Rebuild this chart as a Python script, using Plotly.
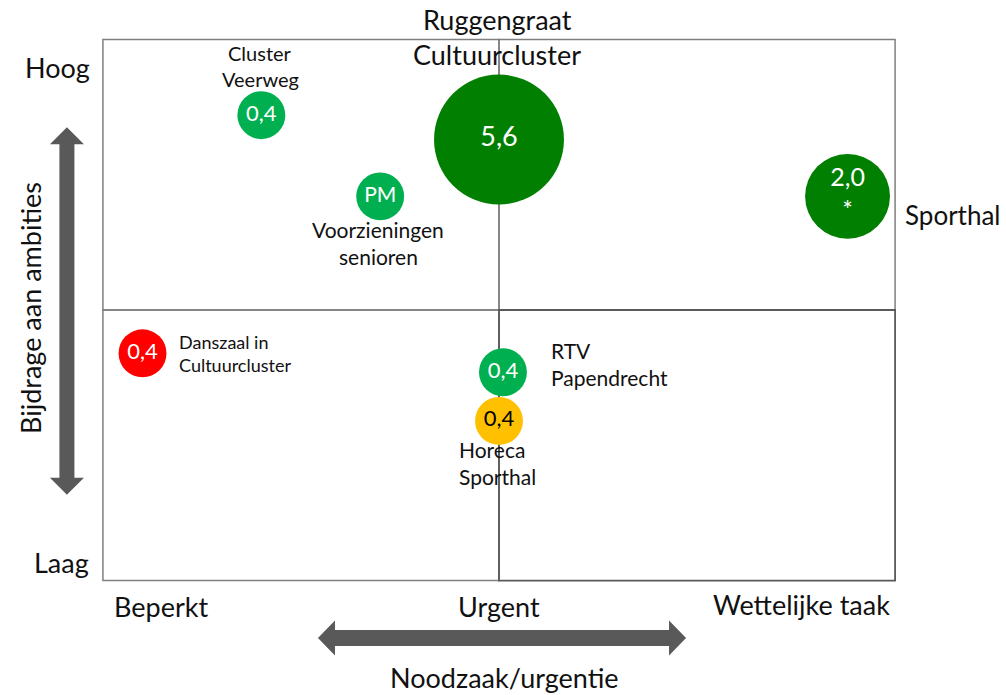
import math
import plotly.graph_objects as go

# ---------------- data ----------------
names = ["Cluster Veerweg", "Ruggengraat Cultuurcluster", "Voorzieningen senioren", "Sporthal",
         "Danszaal in Cultuurcluster", "RTV Papendrecht", "Horeca Sporthal"]
urgency = [0.40, 1.00, 0.70, 1.88, 0.10, 1.01, 1.00]      # 0 = beperkt, 1 = urgent, 2 = wettelijke taak
ambition = [1.72, 1.63, 1.42, 1.42, 0.84, 0.77, 0.59]     # 0 = laag, 2 = hoog
investment = [0.4, 5.6, None, 2.0, 0.4, 0.4, 0.4]         # None = PM
bubble_text = ["0,4", "5,6", "PM", "2,0<br>*", "0,4", "0,4", "0,4"]
status = ["groen", "donkergroen", "groen", "donkergroen", "rood", "groen", "oranje"]
label_lines = [["Cluster", "Veerweg"], ["Ruggengraat", "Cultuurcluster"], ["Voorzieningen", "senioren"],
               ["Sporthal"], ["Danszaal in", "Cultuurcluster"], ["RTV", "Papendrecht"], ["Horeca", "Sporthal"]]

x_tick_labels = ["Beperkt", "Urgent", "Wettelijke taak"]
y_tick_labels = ["Hoog", "Laag"]
x_title = "Noodzaak/urgentie"
y_title = "Bijdrage aan ambities"

# ---------------- styles ----------------
FONT = "Lato"
colors = {"groen": "#00B050", "donkergroen": "#007F00", "rood": "#FF0000", "oranje": "#FFC000"}
text_colors = {"groen": "white", "donkergroen": "white", "rood": "white", "oranje": "black"}
bubble_font = [22, 27, 21, 25, 22, 22, 22]
# label placement (pixel offsets from bubble centre): dx, dy(first line, down +), spacing, size, anchor
label_style = [(-1, -62, 26, 20, "center"), (-2, -120, 35, 27, "center"), (-2, 33, 27, 21, "center"),
               (55, 19, 0, 26, "left"), (34, -11, 23, 18, "left"), (46, -22, 27, 21, "left"),
               (-42, 29, 27, 21, "left")]

W_FIG, H_FIG = 1006, 695
X0_PX, X2_PX = 103, 895     # pixel positions of urgency 0 and 2
Y0_PX, Y2_PX = 581, 39      # pixel positions of ambition 0 and 2
PAD = 0.02
kx = (X2_PX - X0_PX) / 2
ky = (Y0_PX - Y2_PX) / 2
L = X0_PX - PAD * kx
R = W_FIG - (X2_PX + PAD * kx)
T = Y2_PX - PAD * ky
B = H_FIG - (Y0_PX + PAD * ky)
PW = W_FIG - L - R
PH = H_FIG - T - B


def px(x):
    return (x - L) / PW


def py(y):
    return (T + PH - y) / PH


def bubble_size(v):
    v = 0.4 if v is None else v
    return 18 + 47.3 * math.sqrt(v)


fig = go.Figure()
fig.add_trace(go.Scatter(
    x=urgency, y=ambition, mode="markers+text",
    text=bubble_text, textposition="middle center",
    textfont=dict(family=FONT, size=bubble_font, color=[text_colors[s] for s in status]),
    marker=dict(size=[bubble_size(v) for v in investment], color=[colors[s] for s in status],
                line=dict(width=0), opacity=1),
    hovertext=names, hoverinfo="text", cliponaxis=False, showlegend=False,
))

shapes = []
# quadrants
for (xa, xb, ya, yb, col, w) in [(0, 1, 1, 2, "#7F7F7F", 1.5), (1, 2, 1, 2, "#7F7F7F", 1.5),
                                  (0, 1, 0, 1, "#7F7F7F", 1.5), (1, 2, 0, 1, "#595959", 1.8)]:
    shapes.append(dict(type="rect", xref="x", yref="y", x0=xa, x1=xb, y0=ya, y1=yb,
                       line=dict(color=col, width=w), fillcolor="rgba(0,0,0,0)", layer="below"))

# arrows (decorative)
def path(points):
    return "M " + " L ".join(f"{px(a):.5f},{py(b):.5f}" for a, b in points) + " Z"

vx, vt, vb = 67, 127, 495
va = [(vx, vt), (vx + 17, vt + 17), (vx + 7.5, vt + 17), (vx + 7.5, vb - 17), (vx + 17, vb - 17),
      (vx, vb), (vx - 17, vb - 17), (vx - 7.5, vb - 17), (vx - 7.5, vt + 17), (vx - 17, vt + 17)]
hy, hl, hr = 638.5, 318, 686
ha = [(hl, hy), (hl + 17, hy - 17.5), (hl + 17, hy - 8), (hr - 17, hy - 8), (hr - 17, hy - 17.5),
      (hr, hy), (hr - 17, hy + 17.5), (hr - 17, hy + 8), (hl + 17, hy + 8), (hl + 17, hy + 17.5)]
for pts in (va, ha):
    shapes.append(dict(type="path", xref="paper", yref="paper", path=path(pts),
                       fillcolor="#595959", line=dict(width=0)))

annotations = []
# bubble labels
for i, lines in enumerate(label_lines):
    dx, dy, sp, fs, anc = label_style[i]
    for j, line in enumerate(lines):
        annotations.append(dict(x=urgency[i], y=ambition[i], xref="x", yref="y", text=line,
                                showarrow=False, xanchor=anc, yanchor="middle",
                                xshift=dx, yshift=-(dy + j * sp),
                                font=dict(family=FONT, size=fs, color="#111111")))

# axis labels
axis_font = dict(family=FONT, size=27, color="#111111")
annotations += [
    dict(x=px(92), y=py(67), text=y_tick_labels[0], xanchor="right", yanchor="middle"),
    dict(x=px(91), y=py(563), text=y_tick_labels[1], xanchor="right", yanchor="middle"),
    dict(x=px(112), y=py(607), text=x_tick_labels[0], xanchor="left", yanchor="middle"),
    dict(x=px(499), y=py(607), text=x_tick_labels[1], xanchor="center", yanchor="middle"),
    dict(x=px(801), y=py(605), text=x_tick_labels[2], xanchor="center", yanchor="middle"),
    dict(x=px(504), y=py(678), text=x_title, xanchor="center", yanchor="middle"),
    dict(x=px(30), y=py(308), text=y_title, xanchor="center", yanchor="middle", textangle=-90),
]
for a in annotations[-7:]:
    a.update(xref="paper", yref="paper", showarrow=False, font=axis_font)

fig.update_layout(
    width=W_FIG, height=H_FIG,
    margin=dict(l=L, r=R, t=T, b=B, pad=0),
    paper_bgcolor="white", plot_bgcolor="white",
    xaxis=dict(range=[-PAD, 2 + PAD], visible=False, fixedrange=True),
    yaxis=dict(range=[-PAD, 2 + PAD], visible=False, fixedrange=True),
    shapes=shapes, annotations=annotations,
    font=dict(family=FONT),
)

fig.write_html("out.html", config={"displayModeBar": False},
               post_script="document.body.style.margin='0';document.body.style.overflow='hidden';")
